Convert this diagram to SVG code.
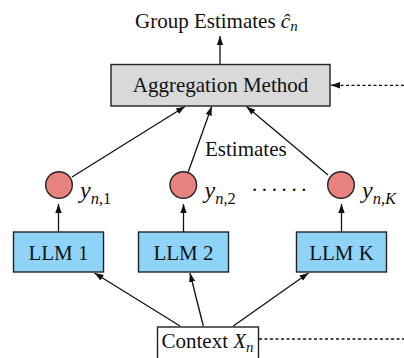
<svg xmlns="http://www.w3.org/2000/svg" width="404" height="358" viewBox="0 0 404 358">
<style>
text{font-family:"Liberation Serif","Times New Roman",serif;fill:#111;}
.t{font-size:21px;}
.yl{font-size:24px;}
.it{font-style:italic;}
.sub{font-size:15px;}
.ysub{font-size:16.5px;}
.box{stroke:#222;stroke-width:1.4;}
.llm{fill:#8FD4F8;}
.agg{fill:#D9D9D9;}
.ctx{fill:#fff;}
.dot{fill:#E8827E;stroke:#222;stroke-width:1.4;}
.ln{stroke:#111;stroke-width:1.3;fill:none;marker-end:url(#ah);}
.dash{stroke:#111;stroke-width:1.3;fill:none;stroke-dasharray:3 2.5;}
</style>
<defs>
<marker id="ah" markerUnits="userSpaceOnUse" markerWidth="10" markerHeight="8" refX="9" refY="4" orient="auto">
<path d="M0,0.8 L9,4 L0,7.2 Z" fill="#111"/>
</marker>
</defs>
<rect width="404" height="358" fill="#fff"/>
<g id="connectors">
<line class="ln" x1="220" y1="64" x2="220" y2="36"/>
<line class="dash" x1="404" y1="85.3" x2="339" y2="85.3"/>
<line class="ln" x1="340" y1="85.3" x2="331" y2="85.3"/>
<line class="ln" x1="72" y1="177" x2="185" y2="106.5"/>
<line class="ln" x1="188.3" y1="171.7" x2="211.7" y2="106.5"/>
<line class="ln" x1="328" y1="175" x2="246.5" y2="106.5"/>
<line class="ln" x1="58.5" y1="232" x2="58.5" y2="204"/>
<line class="ln" x1="183.5" y1="232" x2="183.5" y2="204"/>
<line class="ln" x1="341.5" y1="232" x2="341.5" y2="204"/>
<line class="ln" x1="180" y1="326" x2="94.5" y2="273"/>
<line class="ln" x1="203.3" y1="326" x2="190" y2="273"/>
<line class="ln" x1="233.3" y1="326" x2="308.5" y2="273"/>
<line class="dash" x1="259" y1="339" x2="404" y2="339"/>
</g>
<g id="title">
<text class="t" x="135" y="27.5">Group Estimates <tspan class="it">ĉ</tspan><tspan class="it sub" dy="3">n</tspan></text>
</g>
<g id="aggregation">
<rect class="box agg" x="111" y="64.5" width="219" height="41.5"/>
<text class="t" x="220.5" y="92" text-anchor="middle">Aggregation Method</text>
</g>
<g id="estimates-label">
<text class="t" x="205" y="156">Estimates</text>
</g>
<g id="y1">
<circle class="dot" cx="59" cy="185" r="13.3"/>
<text class="yl" x="80" y="198"><tspan class="it">y</tspan><tspan class="ysub" dy="6"><tspan class="it">n</tspan>,1</tspan></text>
</g>
<g id="y2">
<circle class="dot" cx="183.3" cy="185" r="13.3"/>
<text class="yl" x="204.5" y="198"><tspan class="it">y</tspan><tspan class="ysub" dy="6"><tspan class="it">n</tspan>,2</tspan></text>
</g>
<g id="yK">
<circle class="dot" cx="341" cy="185" r="13.3"/>
<text class="yl" x="362" y="198"><tspan class="it">y</tspan><tspan class="ysub" dy="6"><tspan class="it">n</tspan>,<tspan class="it">K</tspan></tspan></text>
</g>
<g id="ellipsis">
<text class="t" x="252" y="191" letter-spacing="4.6">......</text>
</g>
<g id="llm1">
<rect class="box llm" x="13.5" y="232" width="90" height="40"/>
<text class="t" x="58.5" y="259.5" text-anchor="middle">LLM 1</text>
</g>
<g id="llm2">
<rect class="box llm" x="138.5" y="232" width="90" height="40"/>
<text class="t" x="183.5" y="259.5" text-anchor="middle">LLM 2</text>
</g>
<g id="llmK">
<rect class="box llm" x="296.5" y="232" width="90" height="40"/>
<text class="t" x="341.5" y="259.5" text-anchor="middle">LLM K</text>
</g>
<g id="context">
<rect class="box ctx" x="157.5" y="327" width="101" height="40"/>
<text class="t" x="161.5" y="348">Context <tspan class="it">X</tspan><tspan class="it sub" dy="4">n</tspan></text>
</g>
</svg>
